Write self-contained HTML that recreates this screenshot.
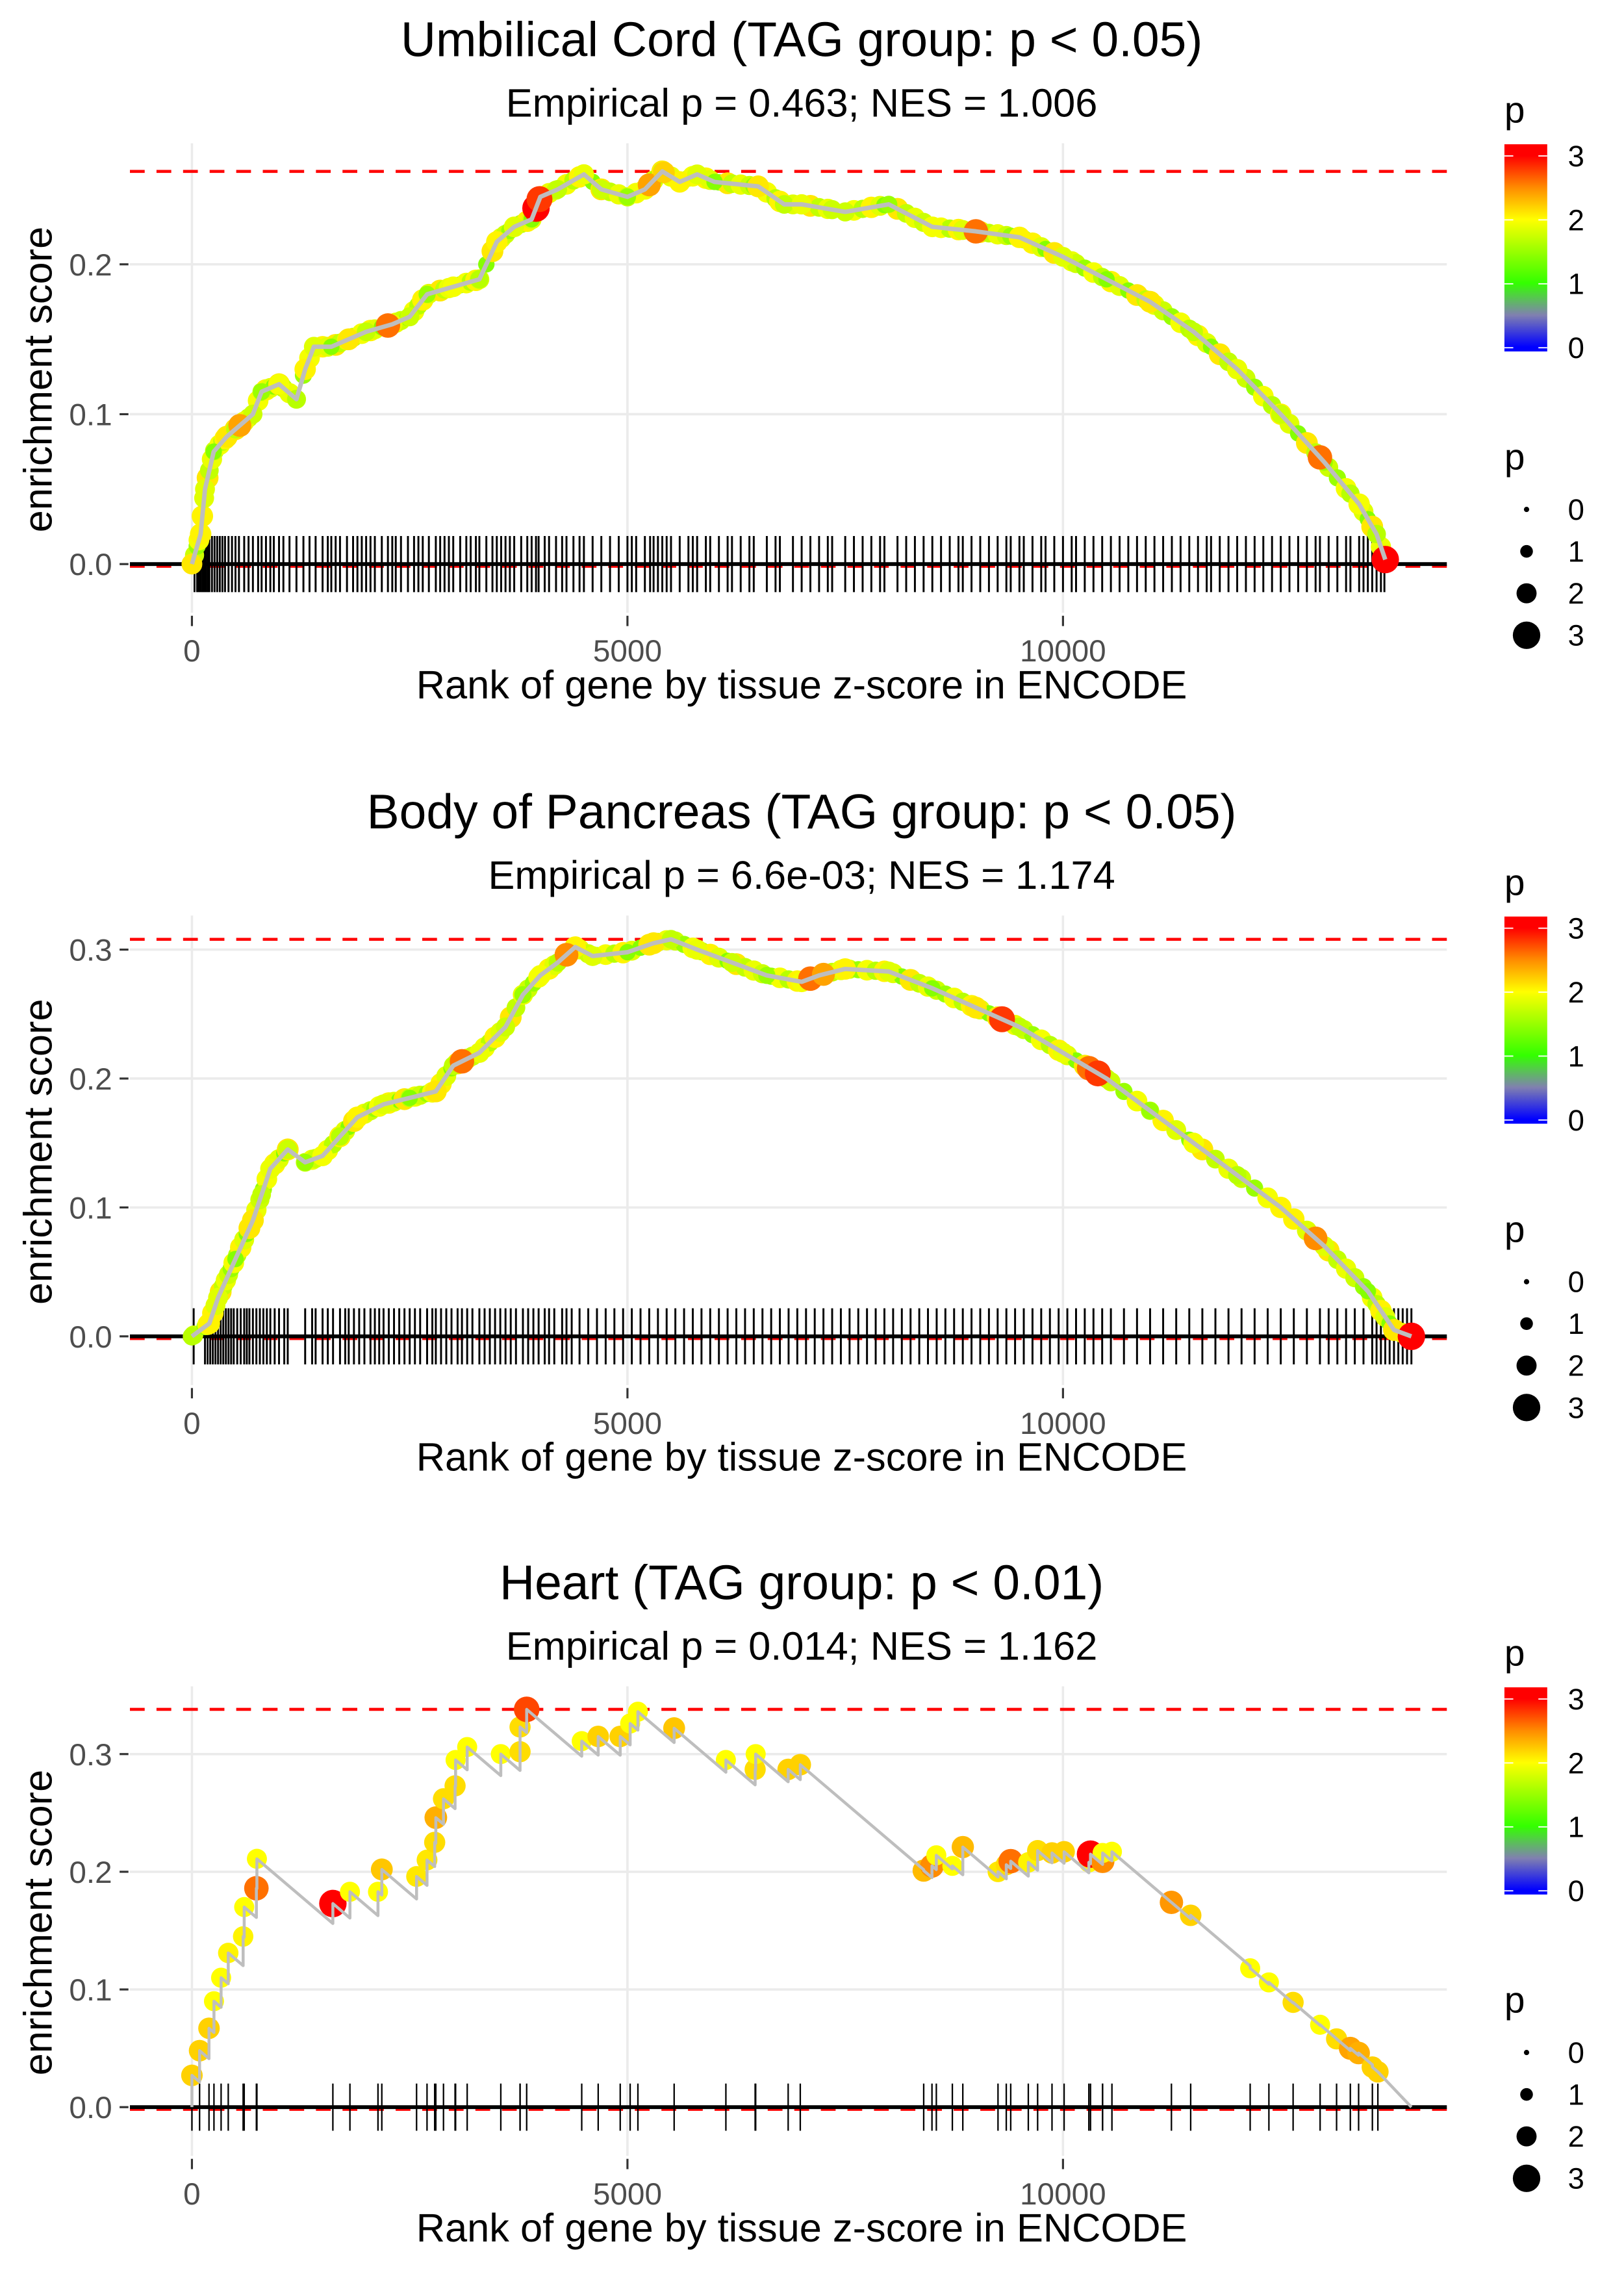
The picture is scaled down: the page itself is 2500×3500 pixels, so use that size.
<!DOCTYPE html>
<html><head><meta charset="utf-8"><style>
html,body{margin:0;padding:0;background:#fff;}
svg{display:block;}
text{font-family:"Liberation Sans",Arial,sans-serif;}
</style></head><body>
<svg id="root" width="2500" height="3500" viewBox="0 0 1100 1540" preserveAspectRatio="none" xmlns="http://www.w3.org/2000/svg"></svg>
<script>
// ---------- data ----------
const xTickValues = [0, 5000, 10000];
const xTickLabels = ["0", "5000", "10000"];
const titles = ["Umbilical Cord (TAG group: p < 0.05)", "Body of Pancreas (TAG group: p < 0.05)", "Heart (TAG group: p < 0.01)"];
const subtitles = ["Empirical p = 0.463; NES = 1.006", "Empirical p = 6.6e-03; NES = 1.174", "Empirical p = 0.014; NES = 1.162"];
const yTicks1 = [0, 0.1, 0.2];
const yTicks2 = [0, 0.1, 0.2, 0.3];
const yTicks3 = [0, 0.1, 0.2, 0.3];
const yTickLabels1 = ["0.0", "0.1", "0.2"];
const yTickLabels2 = ["0.0", "0.1", "0.2", "0.3"];
const yTickLabels3 = ["0.0", "0.1", "0.2", "0.3"];
const legendColorTicks = [0, 1, 2, 3];
const legendSizeTicks = [0, 1, 2, 3];

// Panel 1 (Umbilical Cord): running ES curve
const cordRanks = [0,100,150,250,400,500,600,700,800,1000,1200,1300,1400,1600,1800,2000,2300,2500,2700,3000,3300,3500,3700,3900,4000,4200,4500,4700,5000,5200,5400,5600,5800,6000,6500,6800,7000,7500,8000,8500,9000,9500,10000,10500,11000,11500,12000,12500,13000,13400,13600,13700];
const cordES = [0.0,0.02,0.05,0.075,0.085,0.09,0.095,0.10,0.115,0.12,0.11,0.13,0.145,0.145,0.15,0.155,0.16,0.165,0.18,0.185,0.19,0.215,0.225,0.23,0.245,0.25,0.26,0.25,0.245,0.25,0.262,0.255,0.26,0.255,0.252,0.24,0.24,0.235,0.24,0.225,0.222,0.218,0.205,0.19,0.175,0.155,0.13,0.10,0.068,0.04,0.02,0.003];
const cordHits = [30,60,80,100,120,140,160,180,200,230,260,290,320,350,380,420,460,500,540,600,650,700,760,800,850,900,940,1000,1050,1120,1200,1280,1350,1420,1500,1560,1600,1650,1700,1780,1850,1900,1950,2000,2050,2100,2180,2250,2300,2340,2400,2480,2550,2600,2650,2720,2800,2850,2900,2950,3000,3080,3150,3200,3260,3300,3380,3450,3500,3550,3600,3650,3700,3780,3850,3900,3950,3980,4050,4100,4180,4250,4300,4380,4450,4500,4600,4700,4800,4900,5000,5050,5100,5200,5260,5300,5350,5400,5450,5500,5600,5700,5750,5800,5900,5950,6050,6150,6200,6300,6400,6450,6600,6700,6750,6900,7000,7100,7200,7300,7350,7500,7600,7700,7800,7900,7950,8100,8200,8300,8400,8500,8600,8700,8800,8850,8950,9050,9150,9250,9350,9400,9500,9550,9650,9750,9800,9900,10000,10100,10150,10250,10350,10450,10550,10650,10750,10850,10950,11050,11150,11250,11350,11450,11550,11650,11700,11800,11900,12000,12100,12200,12300,12400,12500,12600,12700,12800,12900,12950,13050,13150,13250,13300,13400,13450,13500,13550,13600,13650,13690];
const cordHighRanks = [0,550,2250,3950,3990,5250,5420,9000,12950,13700];
const cordHighP = [2.1,2.4,2.6,3.0,2.8,2.4,2.2,2.6,2.6,3.0];

// Panel 2 (Body of Pancreas)
const pancRanks = [0,200,300,500,700,800,900,1100,1300,1500,1700,1900,2200,2500,2800,3000,3300,3600,3800,4000,4200,4400,4600,5000,5300,5500,5800,6200,6600,7000,7200,7500,8000,8500,9000,9500,10000,10500,11000,11500,12000,12500,13000,13500,13800,14000];
const pancES = [0.0,0.01,0.03,0.06,0.09,0.11,0.13,0.145,0.135,0.14,0.155,0.17,0.18,0.185,0.19,0.21,0.22,0.24,0.265,0.28,0.29,0.302,0.295,0.298,0.305,0.308,0.30,0.29,0.28,0.275,0.28,0.285,0.283,0.27,0.255,0.24,0.22,0.20,0.175,0.15,0.125,0.10,0.07,0.035,0.005,0.0];
const pancHits = [20,150,180,210,240,270,300,330,360,390,420,450,480,520,560,600,630,660,700,740,780,820,860,900,950,1000,1060,1100,1300,1380,1420,1500,1560,1620,1700,1760,1800,1860,1920,1980,2050,2100,2150,2200,2260,2320,2380,2440,2500,2560,2620,2700,2760,2800,2860,2920,2980,3050,3100,3160,3220,3300,3360,3420,3480,3540,3600,3660,3720,3800,3860,3920,3980,4050,4100,4160,4250,4300,4360,4450,4550,4650,4750,4850,4950,5050,5150,5250,5350,5450,5550,5650,5750,5850,5950,6050,6150,6250,6350,6450,6550,6650,6750,6850,6950,7050,7150,7250,7350,7450,7550,7650,7750,7850,7950,8050,8150,8250,8350,8450,8550,8650,8750,8850,8950,9050,9150,9250,9350,9450,9550,9650,9750,9850,9950,10050,10150,10250,10350,10450,10550,10700,10850,11000,11150,11300,11450,11600,11750,11900,12050,12200,12350,12500,12650,12800,12950,13050,13150,13250,13350,13450,13550,13600,13650,13700,13750,13800,13850,13900,13950,14000];
const pancHighRanks = [3100,4300,7100,7250,9300,10300,10400,12900,14000];
const pancHighP = [2.6,2.5,2.6,2.4,2.8,2.6,2.8,2.5,3.0];

// Panel 3 (Heart): hits with ES peak and -log10 p
const heartRanks = [0,88,196,253,335,417,588,600,740,746,1618,1814,2136,2180,2579,2699,2787,2800,2888,3021,3027,3160,3546,3767,3767,3843,4475,4664,4917,5031,5120,5536,6130,6466,6472,6845,6984,8401,8496,8546,8730,8850,9254,9349,9400,9602,9709,9874,10013,10297,10316,10455,10455,10562,11245,11466,12149,12364,12642,12952,13141,13299,13394,13552,13615];
const heartES = [0.027,0.048,0.067,0.090,0.110,0.131,0.145,0.170,0.186,0.211,0.173,0.183,0.183,0.202,0.196,0.210,0.225,0.246,0.262,0.273,0.295,0.306,0.300,0.302,0.323,0.338,0.311,0.315,0.315,0.326,0.336,0.322,0.295,0.287,0.300,0.287,0.291,0.201,0.205,0.214,0.205,0.221,0.200,0.206,0.209,0.208,0.218,0.216,0.217,0.208,0.215,0.209,0.216,0.217,0.174,0.163,0.118,0.106,0.089,0.070,0.058,0.050,0.046,0.034,0.030];
const heartP = [2.2,2.2,2.2,2.0,2.0,2.05,2.05,2.0,2.6,2.0,3.0,2.0,2.0,2.25,2.1,2.1,2.15,2.35,2.15,2.15,2.0,2.0,2.0,2.15,2.15,2.75,2.0,2.2,2.2,2.0,2.0,2.25,2.0,2.15,2.0,2.2,2.2,2.3,2.5,2.0,2.0,2.3,2.1,2.15,2.6,2.05,2.15,2.2,2.2,2.0,3.0,2.5,2.0,2.0,2.45,2.2,2.0,2.0,2.15,2.0,2.15,2.4,2.35,2.2,2.2];
const heartEndRank = 14000;
const missPenalty = 0.000063;

// per-point colour pattern for dense panels (-log10 p)
const densePattern = [1.75,1.5,1.95,1.65,2.05,1.85,1.4,2.1,1.7,1.9];

// ---------- helpers ----------
const NS = "http://www.w3.org/2000/svg";
const root = document.getElementById("root");
function mk(tag, attrs, parent) {
  const e = document.createElementNS(NS, tag);
  for (const k in attrs) e.setAttribute(k, attrs[k]);
  (parent || root).appendChild(e);
  return e;
}
const X0 = 130, XPER = 0.059, PL = 88, PR = 980;
function xs(r) { return X0 + r * XPER; }
const stops = [[0,[0,0,255]],[0.5,[128,128,176]],[1,[51,255,0]],[2,[255,255,0]],[2.5,[255,140,0]],[3,[255,0,0]]];
function pcol(p) {
  p = Math.max(0, Math.min(3, p));
  for (let i = 0; i < stops.length - 1; i++) {
    const a = stops[i], b = stops[i + 1];
    if (p <= b[0]) {
      const t = (p - a[0]) / (b[0] - a[0]);
      const c = a[1].map((v, j) => Math.round(v + (b[1][j] - v) * t));
      return "rgb(" + c.join(",") + ")";
    }
  }
  return "rgb(255,0,0)";
}
function prad(p) { return 1.8 + 2.5 * p; }
function curveAt(ranks, es, r) {
  if (r <= ranks[0]) return es[0];
  for (let i = 1; i < ranks.length; i++) {
    if (r <= ranks[i]) { const t = (r - ranks[i - 1]) / (ranks[i] - ranks[i - 1]); return es[i - 1] + (es[i] - es[i - 1]) * t; }
  }
  return es[es.length - 1];
}

function drawFrame(idx, off, yZero, yPer, ticks, tickLabels, maxES) {
  const g = mk("g", {});
  
  
  const ys = v => yZero - v * yPer;
  let t = mk("text", {x: 543, y: off + 38, "font-size": 33, "text-anchor": "middle", fill: "#000"}, g);
  t.textContent = titles[idx];
  
  
  t = mk("text", {x: 543, y: off + 79, "font-size": 27, "text-anchor": "middle", fill: "#000"}, g);
  t.textContent = subtitles[idx];
  
  
  ticks.forEach((v, i) => {
    const l = mk("line", {x1: PL, x2: PR, y1: ys(v), y2: ys(v), stroke: "#ebebeb", "stroke-width": 1.6}, g);
    
    
    const tk = mk("line", {x1: 81, x2: 87, y1: ys(v), y2: ys(v), stroke: "#333", "stroke-width": 1.4}, g);
    
    
    const tl = mk("text", {x: 76, y: ys(v) + 7.5, "font-size": 21, "text-anchor": "end", fill: "#4d4d4d"}, g);
    tl.textContent = tickLabels[i];
    
    
  });
  xTickValues.forEach((v, i) => {
    const l = mk("line", {x1: xs(v), x2: xs(v), y1: off + 97, y2: off + 415, stroke: "#ebebeb", "stroke-width": 1.6}, g);
    
    
    const tk = mk("line", {x1: xs(v), x2: xs(v), y1: off + 417, y2: off + 424, stroke: "#333", "stroke-width": 1.4}, g);
    
    
    const tl = mk("text", {x: xs(v), y: off + 448, "font-size": 21, "text-anchor": "middle", fill: "#4d4d4d"}, g);
    tl.textContent = xTickLabels[i];
    
    
  });
  t = mk("text", {x: 543, y: off + 473, "font-size": 27, "text-anchor": "middle", fill: "#000"}, g);
  t.textContent = "Rank of gene by tissue z-score in ENCODE";
  
  
  const cy = off + 257;
  t = mk("text", {x: 0, y: 0, "font-size": 27, "text-anchor": "middle", fill: "#000", transform: "translate(35," + cy + ") rotate(-90)"}, g);
  t.textContent = "enrichment score";
  
  
  let d = mk("line", {x1: PL, x2: PR, y1: ys(maxES), y2: ys(maxES), stroke: "#ff0000", "stroke-width": 2, "stroke-dasharray": "10,8"}, g);
  
  
  d = mk("line", {x1: PL, x2: PR, y1: ys(0) + 1.5, y2: ys(0) + 1.5, stroke: "#ff0000", "stroke-width": 2, "stroke-dasharray": "10,8"}, g);
  
  
  const lg = mk("g", {}, g);
  
  
  t = mk("text", {x: 1019, y: off + 83, "font-size": 25, fill: "#000"}, lg);
  t.textContent = "p";
  
  
  const defs = mk("defs", {}, lg);
  const gr = mk("linearGradient", {id: "cg" + idx, x1: 0, y1: 1, x2: 0, y2: 0}, defs);
  const pmin = -0.07, pmax = 3.18;
  [0, 0.25, 0.5, 0.75, 1, 1.5, 2, 2.25, 2.5, 2.75, 3].forEach(p => {
    mk("stop", {offset: ((p - pmin) / (pmax - pmin)).toFixed(4), "stop-color": pcol(p)}, gr);
  });
  const bTop = off + 97.7, bBot = off + 238;
  const rect = mk("rect", {x: 1019, y: bTop, width: 29, height: bBot - bTop, fill: "url(#cg" + idx + ")"}, lg);
  
  
  legendColorTicks.forEach(v => {
    const yy = off + 235.5 - v * 43.3;
    mk("line", {x1: 1019, x2: 1025, y1: yy, y2: yy, stroke: "#fff", "stroke-width": 0.8}, lg);
    mk("line", {x1: 1042, x2: 1048, y1: yy, y2: yy, stroke: "#fff", "stroke-width": 0.8}, lg);
    const tl = mk("text", {x: 1062, y: yy + 7, "font-size": 20, fill: "#000"}, lg);
    tl.textContent = String(v);
    
    
  });
  const sg = mk("g", {}, g);
  
  
  t = mk("text", {x: 1019, y: off + 318, "font-size": 25, fill: "#000"}, sg);
  t.textContent = "p";
  
  
  legendSizeTicks.forEach((v, i) => {
    const yy = off + 345 + i * 28.4;
    const c = mk("circle", {cx: 1034, cy: yy, r: prad(v), fill: "#000"}, sg);
    
    
    const tl = mk("text", {x: 1062, y: yy + 7, "font-size": 20, fill: "#000"}, sg);
    tl.textContent = String(v);
    
    
  });
  return {g, ys};
}

function drawRug(g, ys, hits, half, w) {
  const rg = mk("g", {}, g);
  
  
  hits.forEach(r => {
    const l = mk("line", {x1: xs(r), x2: xs(r), y1: ys(0) - half, y2: ys(0) + half, stroke: "#000", "stroke-width": w}, rg);
    
    
  });
  const bl = mk("line", {x1: PL, x2: PR, y1: ys(0), y2: ys(0), stroke: "#000", "stroke-width": 2.6}, g);
  
  
}

function drawDense(idx, off, yZero, yPer, ticks, labels, ranks, es, hits, hiR, hiP) {
  const maxES = Math.max.apply(null, es);
  const {g, ys} = drawFrame(idx, off, yZero, yPer, ticks, labels, maxES);
  drawRug(g, ys, hits, 19, 1.3);
  const pg = mk("g", {}, g);
  
  
  hits.forEach((r, i) => {
    const p = densePattern[i % densePattern.length];
    const c = mk("circle", {cx: xs(r), cy: ys(curveAt(ranks, es, r)), r: prad(p) * 1.05, fill: pcol(p)}, pg);
    
    
  });
  ranks.forEach((r, i) => {
    const p = densePattern[(i + 3) % densePattern.length];
    const c = mk("circle", {cx: xs(r), cy: ys(es[i]), r: prad(p) * 1.05, fill: pcol(p)}, pg);
    
    
  });
  hiR.forEach((r, i) => {
    const c = mk("circle", {cx: xs(r), cy: ys(curveAt(ranks, es, r)), r: prad(hiP[i]), fill: pcol(hiP[i])}, pg);
    
    
  });
  const pts = ranks.map((r, i) => xs(r).toFixed(2) + "," + ys(es[i]).toFixed(2)).join(" ");
  const pl = mk("polyline", {points: pts, fill: "none", stroke: "#bebebe", "stroke-width": 3, "stroke-linejoin": "round"}, g);
  
  
}

drawDense(0, 0, 382, 1015, yTicks1, yTickLabels1, cordRanks, cordES, cordHits, cordHighRanks, cordHighP);
drawDense(1, 523, 905, 873, yTicks2, yTickLabels2, pancRanks, pancES, pancHits, pancHighRanks, pancHighP);

(function () {
  const maxES = Math.max.apply(null, heartES);
  const {g, ys} = drawFrame(2, 1045, 1427, 797, yTicks3, yTickLabels3, maxES);
  drawRug(g, ys, heartRanks, 16, 1);
  const pg = mk("g", {}, g);
  
  
  heartRanks.forEach((r, i) => {
    const c = mk("circle", {cx: xs(r), cy: ys(heartES[i]), r: prad(heartP[i]), fill: pcol(heartP[i])}, pg);
    
    
  });
  let d = "M" + xs(0) + "," + ys(0);
  heartRanks.forEach((r, i) => {
    if (i > 0) {
      const tr = Math.max(0, heartES[i - 1] - missPenalty * (r - heartRanks[i - 1]));
      d += " L" + xs(r).toFixed(2) + "," + ys(tr).toFixed(2);
    }
    d += " L" + xs(r).toFixed(2) + "," + ys(heartES[i]).toFixed(2);
  });
  d += " L" + xs(heartEndRank).toFixed(2) + "," + ys(0).toFixed(2);
  const path = mk("path", {d: d, fill: "none", stroke: "#bebebe", "stroke-width": 2, "stroke-linejoin": "round"}, g);
  
  
})();
</script>
</body></html>
